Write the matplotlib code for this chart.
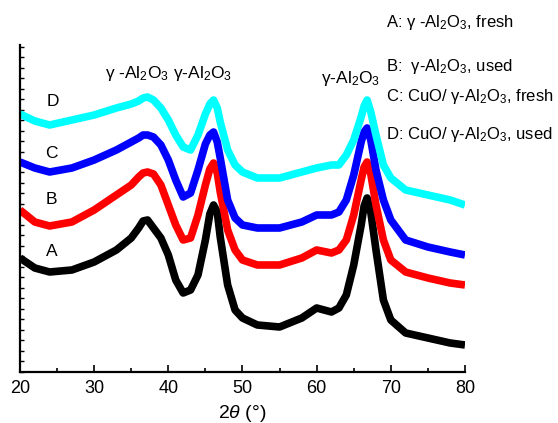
import numpy as np
import matplotlib
matplotlib.use("Agg")
import matplotlib.pyplot as plt
from matplotlib.ticker import MultipleLocator

plt.rcParams["font.family"] = ["Liberation Sans", "DejaVu Sans"]
plt.rcParams["mathtext.fontset"] = "custom"
plt.rcParams["mathtext.rm"] = "Liberation Sans"
plt.rcParams["mathtext.it"] = "Liberation Sans:italic"

# 2theta positions (deg) where the curves were read
two_theta = [20, 22, 24, 27, 30, 33, 35, 36, 36.6, 37.2, 38, 39, 40, 41, 42, 43, 44, 45,
             45.6, 46.1, 46.6, 47, 48, 49, 50, 52, 55, 58, 60, 62, 63, 64, 65, 66, 66.4,
             66.8, 67.3, 68, 69, 70, 72, 75, 78, 80]

# intensities (arb. units, offset stacked)
A = [114, 104, 100, 102, 110, 122, 134, 144, 151, 152, 144, 134, 117, 92, 79, 82, 97, 132,
     158, 167, 160, 135, 87, 62, 54, 47, 45, 54, 64, 60, 64, 77, 107, 147, 166,
     174, 160, 122, 72, 52, 39, 34, 29, 27]
B = [162, 150, 146, 150, 162, 177, 187, 195, 199, 200, 198, 187, 167, 147, 132, 134, 157, 187,
     203, 209, 199, 180, 142, 122, 112, 107, 107, 114, 122, 119, 122, 132, 157, 192, 205,
     210, 198, 167, 132, 112, 100, 94, 89, 87]
C = [210, 204, 200, 204, 212, 222, 230, 234, 237, 237, 235, 227, 212, 192, 175, 179, 202, 228,
     237, 240, 230, 214, 172, 154, 147, 144, 144, 150, 157, 157, 160, 172, 197, 230, 240,
     244, 232, 202, 172, 152, 132, 125, 120, 117]
D = [258, 251, 247, 252, 257, 264, 268, 271, 274, 275, 272, 264, 252, 237, 225, 222, 237, 258,
     268, 272, 264, 250, 222, 207, 200, 194, 194, 200, 204, 207, 207, 217, 232, 255, 266,
     272, 260, 237, 207, 194, 182, 177, 172, 167]

series = {"A": (A, "black"), "B": (B, "red"), "C": (C, "blue"), "D": (D, "cyan")}
label_pos = {"A": (24.3, 120), "B": (24.3, 172), "C": (24.3, 219), "D": (24.5, 271)}

fig = plt.figure(figsize=(5.58, 4.23), dpi=100)
ax = fig.add_axes([0.0358, 0.1206, 0.7975, 0.773])

x = np.array(two_theta)
for name, (vals, color) in series.items():
    ax.plot(x, vals, color=color, linewidth=5.5, solid_joinstyle="round",
            solid_capstyle="butt")
    lx, ly = label_pos[name]
    ax.text(lx, ly, name, fontsize=12.5, ha="center", va="center")

ax.text(35.8, 299, r"γ -Al$_2$O$_3$", fontsize=12.5, ha="center", va="center")
ax.text(44.6, 299, r"γ-Al$_2$O$_3$", fontsize=12.5, ha="center", va="center")
ax.text(64.6, 294, r"γ-Al$_2$O$_3$", fontsize=12.5, ha="center", va="center")

legend_lines = [
    (400, r"A: γ -Al$_2$O$_3$, fresh"),
    (357, r"B:  γ-Al$_2$O$_3$, used"),
    (327, r"C: CuO/ γ-Al$_2$O$_3$, fresh"),
    (288, r"D: CuO/ γ-Al$_2$O$_3$, used"),
]
for ypx, txt in legend_lines:
    fig.text(386 / 558, ypx / 423, txt, fontsize=12, ha="left", va="center")

ax.set_xlim(20, 80)
ax.set_ylim(0, 327)
ax.xaxis.set_major_locator(MultipleLocator(10))
ax.xaxis.set_minor_locator(MultipleLocator(5))
ax.yaxis.set_major_locator(MultipleLocator(10.5))
ax.set_yticklabels([])
ax.tick_params(axis="x", which="major", direction="in", length=5, width=1.2,
               labelsize=13, pad=6)
ax.tick_params(axis="x", which="minor", direction="in", length=3, width=1.2)
ax.tick_params(axis="y", which="major", direction="in", length=3, width=1.0,
               labelleft=False)
for side in ["top", "right"]:
    ax.spines[side].set_visible(False)
for side in ["left", "bottom"]:
    ax.spines[side].set_linewidth(1.6)
ax.set_xlabel(r"2$\theta$ (°)", fontsize=14, labelpad=4)

fig.savefig("out.png", dpi=100)
